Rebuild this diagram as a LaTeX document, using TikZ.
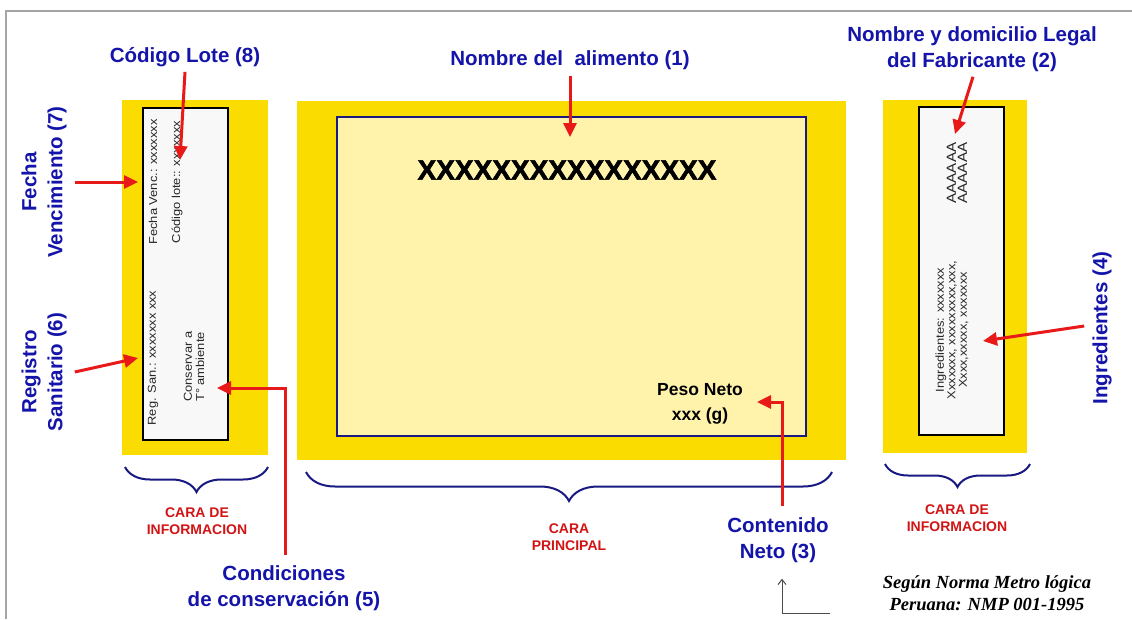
\documentclass[tikz,border=0pt]{standalone}
\usepackage{fontspec}
\setmainfont{Liberation Sans}
\newfontfamily\serifbi{Liberation Serif}
\newfontfamily\heavyfont[FakeBold=2]{Liberation Sans Bold}
\newfontfamily\panelfont[FakeStretch=1.12]{Liberation Sans}
\usetikzlibrary{decorations.pathreplacing, arrows.meta}
\definecolor{ylw}{RGB}{250,220,0}
\definecolor{lyl}{RGB}{255,243,172}
\definecolor{navy}{RGB}{25,25,130}
\definecolor{lblue}{RGB}{20,20,170}
\definecolor{arrred}{RGB}{232,25,25}
\definecolor{txtred}{RGB}{210,20,20}
\definecolor{framegray}{RGB}{165,165,165}
\definecolor{panelw}{RGB}{248,248,248}
\tikzset{
  blbl/.style={font=\fontsize{20.5}{26}\selectfont\bfseries, text=lblue, inner sep=0pt, align=center},
  rlbl/.style={font=\fontsize{14}{17}\selectfont\bfseries, text=txtred, inner sep=0pt, align=center},
  ptxt/.style={font=\panelfont\fontsize{11.5}{11.5}\selectfont, rotate=90, inner sep=0pt, text=black!85},
  redarrow/.style={draw=arrred, line width=3pt, -{Triangle[length=14pt,width=13pt]}},
  blkarrow/.style={draw=black!70, line width=1pt, -{Straight Barb[length=5pt,width=8pt]}},
  bracestyle/.style={draw=navy, line width=2pt, decorate, decoration={brace, mirror, amplitude=#1}},
  yellowpanel/.style={fill=ylw, draw=none},
  whitepanel/.style={fill=panelw, draw=black, line width=1.2pt},
}
\begin{document}
\begin{tikzpicture}[x=1pt,y=-1pt]
\useasboundingbox[fill=white] (0,0) rectangle (1132,619);
% frame
\draw[framegray, line width=1.5pt] (6,619) -- (6,11) -- (1132,11);
% panels
\fill[yellowpanel] (122,100) rectangle (268,455);
\draw[whitepanel] (143,108) rectangle (228,440);
\fill[yellowpanel] (297,101) rectangle (846,460);
\draw[fill=lyl, draw=navy, line width=2pt] (337,117) rectangle (806,436);
\fill[yellowpanel] (883,100) rectangle (1027,453);
\draw[whitepanel] (919,107) rectangle (1004,435);
% panel texts
\node[ptxt] (fv) at (153,182) {Fecha Venc.: xxxxxxx};
\node[ptxt] (cl) at (177,182) {Código lote:: xxxxxxx};
\node[ptxt] (rs) at (153,358) {Reg. San.: xxxxxxx xxx};
\node[ptxt, anchor=west] (ca) at (188,402) {Conservar a};
\node[ptxt, anchor=west] (ta) at (200,402) {T° ambiente};
\node[ptxt, font=\panelfont\fontsize{13.5}{11}\selectfont, align=center] (aa) at (957,173) {AAAAAA\\AAAAAA};
\node[ptxt, align=center, font=\panelfont\fontsize{11.5}{11.5}\selectfont] (ing) at (952,330) {Ingredientes: xxxxxxx\\Xxxxxxx, xxxxxxxxx,xxx,\\Xxxx,xxxxx, xxxxxxx};
\node[font=\heavyfont\fontsize{28}{30}\selectfont, inner sep=0pt] (xx) at (567,170) {XXXXXXXXXXXXXXXX};
\node[font=\fontsize{17.5}{25}\selectfont\bfseries, align=center, inner sep=0pt] (peso) at (700,404) {Peso Neto\\xxx (g)};
% blue labels
\node[blbl] (lote) at (185,57) {Código Lote (8)};
\node[blbl] (nombre) at (570,60) {Nombre del~ alimento (1)};
\node[blbl] (fab) at (972,49) {Nombre y domicilio Legal\\del Fabricante (2)};
\node[blbl, rotate=90] (fecha) at (44,182) {Fecha\\Vencimiento (7)};
\node[blbl, rotate=90] (reg) at (44,372) {Registro\\Sanitario (6)};
\node[blbl, rotate=90] (ingr) at (1102,328) {Ingredientes (4)};
\node[blbl] (cont) at (778,540) {Contenido\\Neto (3)};
\node[blbl] (cond) at (284,588) {Condiciones\\de conservación (5)};
% red labels
\node[rlbl] (cil) at (197,521) {CARA DE\\INFORMACION};
\node[rlbl] (cp) at (569,537) {CARA\\PRINCIPAL};
\node[rlbl] (cir) at (957,518) {CARA DE\\INFORMACION};
% norma
\node[font=\serifbi\bfseries\itshape\fontsize{18.5}{22}\selectfont, align=center, inner sep=0pt] (norma) at (987,593) {Según Norma Metro lógica\\Peruana: NMP 001-1995};
% braces
\draw[bracestyle=25pt] (125,467) -- (268,467);
\draw[bracestyle=29pt] (306,472) -- (832,472);
\draw[bracestyle=23pt] (885,464) -- (1030,464);
% arrow tips
\coordinate (lotetip) at (180,160);
\coordinate (nombretip) at (570,137);
\coordinate (fabtip) at (955,134);
\coordinate (fechatip) at (138,182);
\coordinate (regtip) at (138,358);
\coordinate (ingtip) at (983,341);
\coordinate (pesotip) at (757,402);
\coordinate (condtip) at (217,388);
\coordinate (blk) at (830,613);
% arrows
\draw[redarrow] ([shift={(0pt,-5pt)}]lote.south) -- (lotetip);
\draw[redarrow] ([shift={(0pt,-6pt)}]nombre.south) -- (nombretip);
\draw[redarrow] ([shift={(1pt,-5pt)}]fab.south) -- (fabtip);
\draw[redarrow] ([shift={(8pt,0pt)}]fecha.south) -- (fechatip);
\draw[redarrow] ([shift={(8pt,0pt)}]reg.south) -- (regtip);
\draw[redarrow] ([shift={(-8pt,2pt)}]ingr.north) -- (ingtip);
\draw[redarrow] ([shift={(4pt,11pt)}]cont.north) |- (pesotip);
\draw[redarrow] ([shift={(1pt,10pt)}]cond.north) |- (condtip);
\draw[blkarrow] (blk) -| ([shift={(4pt,-16pt)}]cont.south);
\end{tikzpicture}
\end{document}
